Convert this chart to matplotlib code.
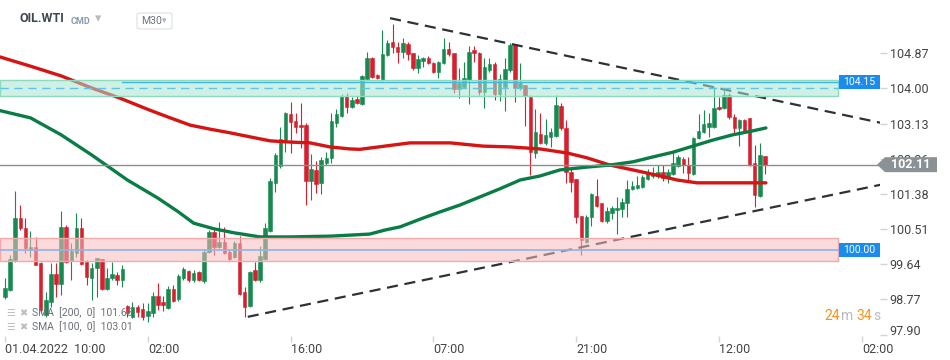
import matplotlib
matplotlib.use('Agg')
import matplotlib.pyplot as plt
import numpy as np
from matplotlib import patches, transforms

plt.rcParams['font.family'] = ['Roboto', 'DejaVu Sans']

# OIL.WTI M30 candles
opens = [
    98.83, 99.00, 99.75, 100.79, 100.54, 100.00, 100.07, 99.67, 98.39, 98.71,
    99.40, 99.15, 100.57, 99.72, 99.92, 100.54, 99.70, 99.30, 99.55, 99.77,
    99.03, 99.30, 99.38, 99.25, 98.61, 98.34, 98.58, 98.53, 98.36, 98.43,
    98.86, 98.71, 98.56, 99.03, 98.78, 99.30, 99.48, 99.25, 99.45, 99.23,
    99.95, 100.44, 100.07, 100.19, 99.95, 99.82, 100.17, 98.96, 98.61, 99.50,
    99.25, 99.77, 100.47, 101.66, 102.08, 102.72, 103.37, 103.19, 103.09, 103.09,
    101.71, 101.98, 101.66, 102.15, 102.28, 103.14, 103.32, 103.81, 103.54, 103.74,
    103.61, 104.23, 104.75, 104.33, 104.21, 104.83, 105.15, 105.03, 104.90, 105.10,
    104.88, 104.50, 104.68, 104.75, 104.63, 104.41, 104.63, 104.98, 104.88, 103.98,
    104.03, 104.21, 104.95, 104.88, 103.91, 104.46, 104.60, 103.86, 104.03, 104.46,
    105.10, 104.01, 104.08, 103.79, 102.40, 102.87, 102.65, 102.80, 102.82, 103.56,
    103.02, 101.93, 101.75, 100.84, 100.19, 100.81, 101.33, 101.16, 100.71, 100.91,
    100.99, 101.01, 101.16, 101.51, 101.53, 101.56, 101.75, 101.83, 101.83, 101.93,
    101.80, 101.88, 102.08, 102.25, 102.10, 101.88, 102.77, 102.92, 103.04, 103.04,
    103.54, 103.51, 103.84, 103.29, 103.02, 103.22, 103.27, 102.15, 101.33, 102.32,
]
highs = [
    99.30, 99.87, 101.46, 101.11, 100.79, 100.47, 100.32, 99.70, 98.96, 99.67,
    99.67, 100.96, 100.62, 100.17, 100.91, 100.79, 99.75, 99.67, 99.80, 99.77,
    99.55, 99.70, 99.45, 99.62, 98.63, 98.71, 98.63, 98.68, 98.68, 98.96,
    99.18, 98.86, 99.10, 99.13, 99.40, 99.57, 99.50, 99.50, 99.48, 100.02,
    100.49, 100.49, 100.69, 100.57, 100.02, 100.22, 100.34, 99.08, 99.48, 99.70,
    100.10, 100.66, 101.78, 102.40, 103.04, 103.42, 103.66, 103.39, 103.64, 103.14,
    102.37, 102.20, 102.30, 102.42, 103.39, 103.49, 103.86, 103.89, 103.79, 103.81,
    104.33, 104.90, 104.78, 104.36, 105.45, 105.20, 105.60, 105.15, 105.25, 105.15,
    104.88, 104.83, 104.78, 104.80, 104.65, 104.68, 105.25, 105.15, 104.88, 104.50,
    104.65, 105.05, 105.05, 104.90, 104.75, 104.75, 104.65, 104.36, 104.75, 105.12,
    105.10, 104.63, 104.08, 103.84, 103.49, 103.39, 103.24, 103.02, 103.84, 103.64,
    103.22, 102.03, 101.75, 100.84, 100.86, 101.41, 101.75, 101.16, 101.06, 101.09,
    101.31, 101.28, 101.73, 101.71, 101.83, 101.85, 102.00, 102.05, 102.10, 102.10,
    102.00, 102.45, 102.35, 102.30, 102.30, 102.80, 103.37, 103.46, 103.39, 104.03,
    103.79, 103.96, 103.89, 103.37, 103.24, 103.24, 103.27, 102.60, 102.65, 102.32,
]
lows = [
    98.78, 98.98, 99.70, 100.49, 99.92, 99.82, 99.62, 98.43, 98.34, 98.58,
    98.83, 98.88, 99.67, 99.25, 99.82, 99.62, 99.13, 98.76, 98.83, 99.00,
    99.00, 99.25, 99.13, 99.08, 98.34, 98.31, 98.34, 98.26, 98.21, 98.34,
    98.51, 98.48, 98.53, 98.71, 98.73, 99.25, 99.20, 99.20, 99.23, 99.18,
    99.92, 99.87, 100.05, 99.90, 99.72, 99.80, 98.88, 98.34, 98.58, 99.23,
    99.20, 99.75, 100.44, 101.43, 102.03, 102.42, 102.40, 102.90, 102.52, 101.11,
    101.23, 101.41, 101.38, 102.10, 102.15, 103.04, 103.29, 103.39, 103.51, 103.61,
    103.59, 104.21, 104.26, 104.23, 104.18, 104.80, 104.88, 104.63, 104.75, 104.70,
    104.46, 104.38, 104.53, 104.60, 104.38, 104.26, 104.60, 104.80, 103.89, 103.76,
    104.01, 103.61, 104.65, 103.84, 103.51, 104.41, 103.71, 103.69, 103.44, 104.41,
    103.66, 103.96, 103.07, 101.85, 102.28, 102.62, 102.60, 102.55, 102.80, 102.97,
    101.66, 101.43, 100.66, 99.87, 100.17, 100.59, 101.06, 100.69, 100.66, 100.76,
    100.39, 100.81, 100.81, 101.48, 101.51, 101.53, 101.73, 101.78, 101.78, 101.71,
    101.66, 101.85, 102.05, 101.90, 101.68, 101.85, 102.75, 102.90, 102.80, 103.02,
    103.46, 103.49, 103.24, 102.87, 102.57, 102.92, 102.08, 101.06, 101.31, 101.88,
]
closes = [
    99.05, 99.77, 100.79, 100.54, 100.05, 100.07, 99.62, 98.51, 98.76, 99.40,
    99.15, 100.57, 99.70, 99.97, 100.54, 99.65, 99.33, 99.55, 99.80, 99.03,
    99.30, 99.40, 99.25, 99.52, 98.43, 98.58, 98.46, 98.34, 98.48, 98.86,
    98.63, 98.63, 99.03, 98.73, 99.35, 99.52, 99.25, 99.43, 99.25, 99.95,
    100.44, 100.07, 100.19, 99.92, 99.77, 100.17, 98.91, 98.58, 99.45, 99.25,
    99.85, 100.54, 101.71, 102.35, 102.75, 103.39, 103.17, 103.04, 103.04, 101.71,
    102.00, 101.63, 102.23, 102.28, 103.19, 103.37, 103.81, 103.54, 103.71, 103.64,
    104.31, 104.75, 104.28, 104.26, 104.85, 105.12, 105.03, 104.90, 105.12, 104.85,
    104.50, 104.73, 104.75, 104.63, 104.41, 104.65, 104.98, 104.85, 103.98, 104.13,
    104.26, 104.90, 104.88, 103.91, 104.53, 104.60, 103.86, 104.23, 104.48, 105.07,
    104.01, 104.13, 103.81, 102.42, 102.92, 102.65, 102.85, 102.92, 103.59, 103.02,
    101.93, 101.68, 100.81, 100.24, 100.81, 101.38, 101.09, 100.71, 100.96, 101.04,
    101.04, 101.19, 101.51, 101.58, 101.61, 101.80, 101.90, 101.90, 101.93, 101.78,
    101.93, 102.15, 102.30, 102.10, 101.90, 102.77, 102.95, 103.12, 103.14, 103.51,
    103.49, 103.84, 103.29, 103.02, 103.22, 102.95, 102.10, 101.36, 102.35, 102.11,
]

# moving averages (x = candle index)
sma200_x = [-1, 5, 11, 17, 22.5, 28.4, 32.4, 36.3, 40.2, 44.1, 48, 52, 55.9, 59.8, 63.7, 67.6,
            69.6, 74.5, 79.4, 87.3, 93.7, 99, 104.9, 110.2, 114.1, 118.6, 123.1, 127.8,
            131.8, 135.7, 144.1, 149.2]
sma200_y = [104.78, 104.55, 104.31, 104.01, 103.76, 103.46, 103.27, 103.09, 102.99, 102.90,
            102.80, 102.70, 102.67, 102.65, 102.55, 102.50, 102.49, 102.57, 102.65, 102.65,
            102.57, 102.55, 102.50, 102.40, 102.28, 102.10, 101.98, 101.85, 101.73, 101.66,
            101.66, 101.66]
sma100_x = [-1, 5, 11, 17, 24, 30, 34, 37, 41, 45, 50, 56, 64, 71.5, 74.5, 77.5, 81.4, 85.3,
            89.2, 93.1, 97, 101, 104.9, 108.8, 114.1, 118.6, 123.1, 127, 131, 134.9, 138.8,
            142.7, 146.7, 149.2]
sma100_y = [103.45, 103.27, 102.85, 102.35, 101.73, 101.28, 100.94, 100.66, 100.52, 100.42,
            100.32, 100.32, 100.34, 100.39, 100.49, 100.57, 100.76, 100.94, 101.11, 101.31,
            101.51, 101.73, 101.83, 101.98, 102.05, 102.10, 102.18, 102.30, 102.42, 102.57,
            102.72, 102.85, 102.95, 103.02]

# triangle trendlines
upper_x = [75.5, 171.6]
upper_y = [105.74, 103.15]
lower_x = [47.6, 171.6]
lower_y = [98.34, 101.61]

# zones / levels
zone_hi = (103.81, 104.21)
zone_lo = (99.72, 100.30)
level_hi = 104.15
level_hi_dash = 104.02
level_lo = 100.00
last_price = 102.11

yticks = [97.90, 98.77, 99.64, 100.51, 101.38, 102.26, 103.13, 104.00, 104.87]
xtick_pos = [0, 28, 56, 84, 112, 140, 168]
xtick_labels = ['01.04.2022  10:00', '02:00', '16:00', '07:00', '21:00', '12:00', '02:00']
sma_legend = ['SMA  [200,  0]  101.66', 'SMA  [100,  0]  103.01']

GREEN = '#178a50'
RED = '#d6202e'

W, H = 950, 360
fig = plt.figure(figsize=(9.5, 3.6), dpi=100)
ax = fig.add_axes([0, 24 / H, 880 / W, 336 / H])
ax.set_xlim(-0.98, 171.57)
ax.set_ylim(97.865, 106.19)
ppu = 336 / (106.19 - 97.865)  # pixels per price unit

x = np.arange(len(opens))
o = np.array(opens); c = np.array(closes)
hi = np.array(highs); lo = np.array(lows)
up = c >= o
cols = np.where(up, GREEN, RED)

ax.vlines(x, lo, hi, colors=cols, lw=0.8, zorder=2)
body_lo = np.minimum(o, c)
body_h = np.maximum(np.abs(c - o), 0.03)
ax.bar(x, body_h, bottom=body_lo, width=0.7, color=cols, edgecolor=cols, lw=0.4, zorder=2.1)

ax.plot(sma200_x, sma200_y, color='#d61414', lw=2.4, solid_capstyle='round', zorder=3)
ax.plot(sma100_x, sma100_y, color='#0a7d46', lw=2.4, solid_capstyle='round', zorder=3)

ax.plot(upper_x, upper_y, color='#2c3238', lw=1.6, linestyle=(0, (5, 3)), zorder=3.5)
ax.plot(lower_x, lower_y, color='#2c3238', lw=1.6, linestyle=(0, (5, 3)), zorder=3.5)

xmax_band = 838 / 880
ax.axhspan(*zone_hi, xmin=0, xmax=xmax_band, facecolor=(169/255, 228/255, 206/255, 0.55),
           edgecolor='#8edbbd', lw=1, zorder=5)
ax.axhspan(*zone_lo, xmin=0, xmax=xmax_band, facecolor=(246/255, 188/255, 191/255, 0.55),
           edgecolor='#f3a9ac', lw=1, zorder=5)
ax.axhline(level_hi, xmin=122 / 880, xmax=xmax_band, color='#3db8ec', lw=1, zorder=6)
ax.axhline(level_hi_dash, xmin=0, xmax=xmax_band, color='#5fc4e8', lw=1,
           linestyle=(0, (6, 4)), zorder=6)
ax.axhline(level_lo, xmin=0, xmax=xmax_band, color='#8fb4ea', lw=1.2, zorder=6)
ax.axhline(last_price, color='#8d8d8d', lw=1, zorder=6)

for s in ax.spines.values():
    s.set_visible(False)

ax.yaxis.tick_right()
ax.set_yticks(yticks)
ax.set_yticklabels([f'{v:.2f}' for v in yticks])
ax.tick_params(axis='y', direction='out', length=5, width=1, color='#d4d4d4',
               labelsize=9, labelcolor='#444444', pad=2)
# bottom label sits a bit higher so it does not collide with the time axis
offset = transforms.ScaledTranslation(0, 5 / 100, fig.dpi_scale_trans)
lab = ax.yaxis.get_major_ticks()[0].label2
lab.set_transform(lab.get_transform() + offset)

ax.set_xticks(xtick_pos)
ax.set_xticklabels(xtick_labels, ha='left')
ax.tick_params(axis='x', direction='out', length=4, width=1, color='#d4d4d4',
               labelsize=9, labelcolor='#444444', pad=1)

ytr = ax.get_yaxis_transform()

def price_box(val, text, color):
    h = 14 / ppu
    ax.add_patch(patches.Rectangle((839 / 880, val - h / 2), 41 / 880, h, transform=ytr,
                                   facecolor=color, edgecolor='none', clip_on=False, zorder=10))
    ax.text(859.5 / 880, val, text, transform=ytr, ha='center', va='center', color='white',
            fontsize=7.5, clip_on=False, zorder=11)

price_box(level_hi, f'{level_hi:.2f}', '#1a8cf0')
price_box(level_lo, f'{level_lo:.2f}', '#1a8cf0')

hh = 7.5 / ppu
marker = patches.Polygon([(877 / 880, last_price), (885 / 880, last_price + hh),
                          (937 / 880, last_price + hh), (937 / 880, last_price - hh),
                          (885 / 880, last_price - hh)], closed=True, transform=ytr,
                         facecolor='#8a9296', edgecolor='none', clip_on=False, zorder=10)
ax.add_patch(marker)
ax.text(911 / 880, last_price, f'{last_price:.2f}', transform=ytr, ha='center', va='center',
        color='white', fontsize=9, fontweight='bold', clip_on=False, zorder=11)

def px(xp, yp):
    return xp / W, 1 - yp / H

# header
fig.text(*px(20, 19), 'OIL.WTI', fontsize=9, fontweight='bold', color='#3d4852', va='center')
fig.text(*px(71, 21), 'CMD', fontsize=6.5, fontweight='bold', color='#8a9bb0', va='center')
fig.text(*px(95, 19), '▾', fontsize=9, color='#b5bcc4', va='center', family='DejaVu Sans')
box = patches.FancyBboxPatch(px(137, 29), 35 / W, 16 / H,
                             boxstyle='round,pad=0,rounding_size=0.004',
                             transform=fig.transFigure, facecolor='white',
                             edgecolor='#dcdfe3', lw=0.8)
fig.patches.append(box)
fig.text(*px(141, 21), 'M30', fontsize=7.5, color='#6b7580', va='center')
fig.text(*px(162, 21), '▾', fontsize=6.5, color='#a8b0b8', va='center', family='DejaVu Sans')

# indicator legend
for i, lbl in enumerate(sma_legend):
    yy = 313 + 14 * i
    fig.text(*px(6, yy), '☰', fontsize=7, color='#b9bec4', va='center', family='DejaVu Sans')
    fig.text(*px(19, yy), '✖', fontsize=7, color='#b9bec4', va='center', family='DejaVu Sans')
    fig.text(*px(32, yy), lbl, fontsize=7.5, color='#6a7075', va='center')

# candle timer
fig.text(*px(824, 316), '24', fontsize=10, color='#f7941d', va='center')
fig.text(*px(840.5, 316), 'm', fontsize=10, color='#b8bcc0', va='center')
fig.text(*px(856, 316), '34', fontsize=10, color='#f7941d', va='center')
fig.text(*px(873.5, 316), 's', fontsize=10, color='#b8bcc0', va='center')

fig.savefig('out.png', dpi=100, facecolor='white')
